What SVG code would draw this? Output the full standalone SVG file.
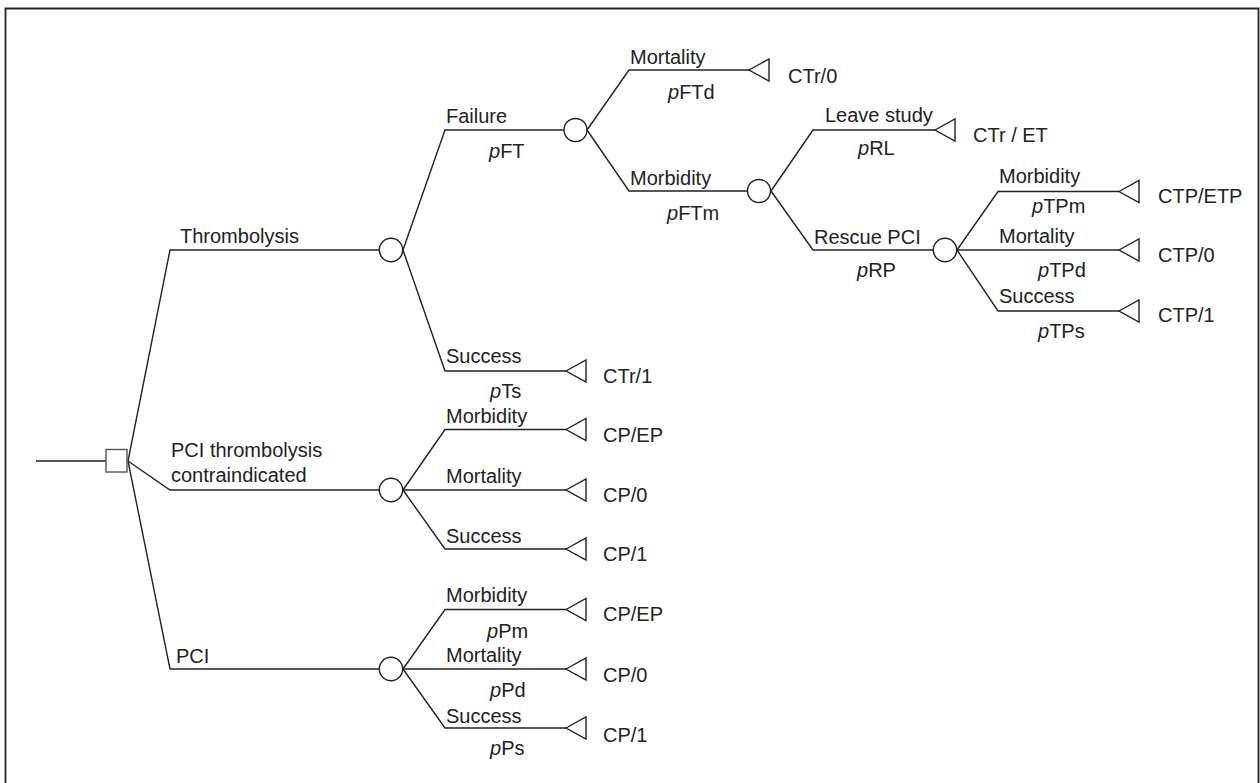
<svg xmlns="http://www.w3.org/2000/svg" width="1260" height="783" viewBox="0 0 1260 783">
<style>
text{font-family:"Liberation Sans",Arial,sans-serif;font-size:20px;fill:#222}
.i{font-style:italic}
.c{fill:none;stroke:#222;stroke-width:1.4}
.n{fill:#fff;stroke:#222;stroke-width:1.4}
.t{fill:#fff;stroke:#222;stroke-width:1.4;stroke-linejoin:miter}
</style>
<rect width="1260" height="783" fill="#fff"/>
<path d="M5.5,783 V8.5 H1258.5 V783" fill="none" stroke="#222" stroke-width="1.8"/>
<g id="connectors">
<path class="c" d="M36,461 H106"/>
<path class="c" d="M128,461 L170,250 H379.5"/>
<path class="c" d="M128,461 L170,490 H379.5"/>
<path class="c" d="M128,461 L170,669 H379.5"/>
<path class="c" d="M403,250 L445,130 H564"/>
<path class="c" d="M403,250 L445,371 H566"/>
<path class="c" d="M587,130 L629,70 H749"/>
<path class="c" d="M587,130 L629,191 H747.5"/>
<path class="c" d="M771,191 L813,130 H935"/>
<path class="c" d="M771,191 L813,250 H933.5"/>
<path class="c" d="M957,250 L998,191.5 H1119"/>
<path class="c" d="M957,250 H1119"/>
<path class="c" d="M957,250 L998,311 H1119"/>
<path class="c" d="M403,490 L445,429.5 H566"/>
<path class="c" d="M403,490 H566"/>
<path class="c" d="M403,490 L445,549 H566"/>
<path class="c" d="M403,669 L445,609.5 H566"/>
<path class="c" d="M403,669 H566"/>
<path class="c" d="M403,669 L445,728 H566"/>
</g>
<g id="decision"><rect x="106" y="449.5" width="21" height="22.5" fill="#fff" stroke="#555" stroke-width="1.4"/></g>
<g id="thrombolysis">
<circle class="n" cx="391" cy="250" r="11.7"/>
<text x="180" y="243">Thrombolysis</text>
</g>
<g id="contraindicated">
<circle class="n" cx="391" cy="490" r="11.7"/>
<text x="171" y="457">PCI thrombolysis</text>
<text x="171" y="482">contraindicated</text>
</g>
<g id="pci">
<circle class="n" cx="391" cy="669" r="11.7"/>
<text x="176" y="663">PCI</text>
</g>
<g id="failure">
<circle class="n" cx="575.5" cy="130" r="11.5"/>
<text x="446" y="123">Failure</text>
<text x="489" y="158"><tspan class="i">p</tspan>FT</text>
</g>
<g id="t-success">
<polygon class="t" points="566,371 586,360 586,382"/>
<text x="446" y="363">Success</text>
<text x="490" y="398"><tspan class="i">p</tspan>Ts</text>
<text x="603" y="383">CTr/1</text>
</g>
<g id="f-mortality">
<polygon class="t" points="749,70 769,59 769,81"/>
<text x="630" y="64">Mortality</text>
<text x="668" y="99"><tspan class="i">p</tspan>FTd</text>
<text x="788" y="83">CTr/0</text>
</g>
<g id="f-morbidity">
<circle class="n" cx="759" cy="191" r="11.5"/>
<text x="630" y="185">Morbidity</text>
<text x="667" y="220"><tspan class="i">p</tspan>FTm</text>
</g>
<g id="leave-study">
<polygon class="t" points="935,130 955,119 955,141"/>
<text x="825" y="122">Leave study</text>
<text x="858" y="155"><tspan class="i">p</tspan>RL</text>
<text x="973" y="142">CTr / ET</text>
</g>
<g id="rescue-pci">
<circle class="n" cx="945" cy="250" r="11.7"/>
<text x="814" y="244">Rescue PCI</text>
<text x="857" y="277"><tspan class="i">p</tspan>RP</text>
</g>
<g id="r-morbidity">
<polygon class="t" points="1119,191.5 1139,180.5 1139,202.5"/>
<text x="999" y="183">Morbidity</text>
<text x="1032" y="213"><tspan class="i">p</tspan>TPm</text>
<text x="1158" y="203">CTP/ETP</text>
</g>
<g id="r-mortality">
<polygon class="t" points="1119,250 1139,239 1139,261"/>
<text x="999" y="243">Mortality</text>
<text x="1038" y="277"><tspan class="i">p</tspan>TPd</text>
<text x="1158" y="262">CTP/0</text>
</g>
<g id="r-success">
<polygon class="t" points="1119,311 1139,300 1139,322"/>
<text x="999" y="303">Success</text>
<text x="1038" y="338"><tspan class="i">p</tspan>TPs</text>
<text x="1158" y="322">CTP/1</text>
</g>
<g id="c-morbidity">
<polygon class="t" points="566,429.5 586,418.5 586,440.5"/>
<text x="446" y="423">Morbidity</text>
<text x="603" y="442">CP/EP</text>
</g>
<g id="c-mortality">
<polygon class="t" points="566,490 586,479 586,501"/>
<text x="446" y="483">Mortality</text>
<text x="603" y="502">CP/0</text>
</g>
<g id="c-success">
<polygon class="t" points="566,549 586,538 586,560"/>
<text x="446" y="543">Success</text>
<text x="603" y="561">CP/1</text>
</g>
<g id="p-morbidity">
<polygon class="t" points="566,609.5 586,598.5 586,620.5"/>
<text x="446" y="602">Morbidity</text>
<text x="487" y="638"><tspan class="i">p</tspan>Pm</text>
<text x="603" y="621">CP/EP</text>
</g>
<g id="p-mortality">
<polygon class="t" points="566,669 586,658 586,680"/>
<text x="446" y="662">Mortality</text>
<text x="490" y="697"><tspan class="i">p</tspan>Pd</text>
<text x="603" y="682">CP/0</text>
</g>
<g id="p-success">
<polygon class="t" points="566,728 586,717 586,739"/>
<text x="446" y="723">Success</text>
<text x="490" y="755"><tspan class="i">p</tspan>Ps</text>
<text x="603" y="742">CP/1</text>
</g>
</svg>
